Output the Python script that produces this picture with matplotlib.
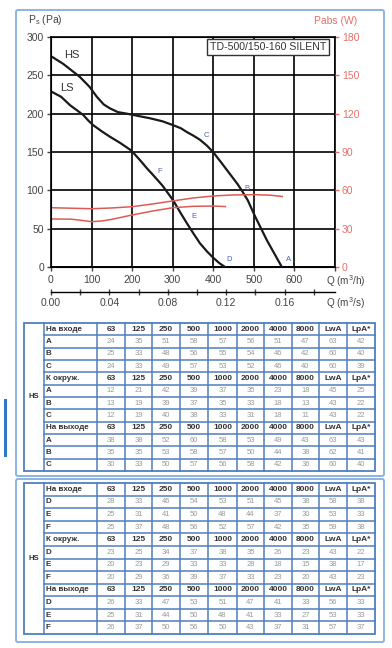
import numpy as np
import matplotlib
matplotlib.use("Agg")
import matplotlib.pyplot as plt
from matplotlib.patches import Rectangle, FancyBboxPatch

plt.rcParams['font.family'] = ['Liberation Sans', 'DejaVu Sans']

# fan curves: Q in m3/h, Ps in Pa
hs_q = [0, 30, 71, 95, 113, 130, 145, 165, 187, 215, 244, 275, 301, 320, 335, 352, 367,
        385, 401, 420, 440, 460, 470, 485, 503, 518, 532, 550, 569]
hs_p = [275, 265, 248, 235, 222, 212, 207, 202, 200, 197, 194, 190, 185, 181, 176, 171, 166,
        158, 149, 136, 122, 108, 100, 87, 66, 50, 35, 18, 0]
ls_q = [0, 25, 47, 65, 80, 92, 104, 125, 145, 170, 195, 203, 220, 236, 255, 275, 301,
        320, 335, 352, 367, 385, 400, 415, 429]
ls_p = [229, 222, 211, 204, 198, 191, 185, 177, 170, 162, 153, 149, 139, 129, 118, 106, 87,
        70, 57, 43, 31, 20, 12, 5, 0]

# absorbed power, W
hs_w_q = [0, 50, 100, 150, 200, 250, 300, 350, 400, 450, 500, 540, 570]
hs_w = [46.4, 46.0, 45.6, 46.2, 47.2, 49.3, 51.7, 54.0, 55.6, 56.4, 56.6, 56.2, 55.2]
ls_w_q = [0, 50, 75, 100, 125, 150, 200, 250, 300, 350, 400, 430]
ls_w = [37.6, 37.4, 36.5, 35.5, 36.0, 37.3, 40.7, 43.8, 46.4, 47.5, 47.7, 47.3]

# operating point letters
pt_names = ['A', 'B', 'C', 'D', 'E', 'F']
pt_q = [586, 483, 384, 440, 353, 267]
pt_p = [10, 102, 171, 10, 66, 124]

# sound tables
bands = ['63', '125', '250', '500', '1000', '2000', '4000', '8000', 'LwA', 'LpA*']
sections = ['На входе', 'К окруж.', 'На выходе']
rows1 = ['A', 'B', 'C']
vals1 = [
    [[24, 35, 51, 58, 57, 56, 51, 47, 63, 42],
     [25, 33, 48, 56, 55, 54, 46, 42, 60, 40],
     [24, 33, 49, 57, 53, 52, 46, 40, 60, 39]],
    [[12, 21, 42, 39, 37, 35, 23, 18, 45, 25],
     [13, 19, 39, 37, 35, 33, 18, 13, 43, 22],
     [12, 19, 40, 38, 33, 31, 18, 11, 43, 22]],
    [[38, 38, 52, 60, 58, 53, 49, 43, 63, 43],
     [35, 35, 53, 58, 57, 50, 44, 38, 62, 41],
     [30, 33, 50, 57, 56, 58, 42, 36, 60, 40]],
]
rows2 = ['D', 'E', 'F']
vals2 = [
    [[28, 33, 46, 54, 53, 51, 45, 38, 58, 38],
     [25, 31, 41, 50, 48, 44, 37, 30, 53, 33],
     [25, 37, 48, 56, 52, 57, 42, 35, 59, 38]],
    [[23, 25, 34, 37, 38, 35, 26, 23, 43, 22],
     [20, 23, 29, 33, 33, 28, 18, 15, 38, 17],
     [20, 29, 36, 39, 37, 33, 23, 20, 43, 23]],
    [[26, 33, 47, 53, 51, 47, 41, 33, 56, 33],
     [25, 31, 44, 50, 48, 41, 33, 27, 53, 33],
     [26, 37, 50, 56, 50, 43, 37, 31, 57, 37]],
]

W, H = 392, 648
fig = plt.figure(figsize=(W / 100, H / 100), dpi=100)
fig.patch.set_facecolor('white')

# background layer in pixel coordinates for frames and tables
bg = fig.add_axes([0, 0, 1, 1])
bg.set_xlim(0, W)
bg.set_ylim(H, 0)
bg.axis('off')

frame_col = '#8db3e0'
bg.add_patch(FancyBboxPatch((16, 10), 368, 466, boxstyle='round,pad=0,rounding_size=2',
                            fill=False, ec=frame_col, lw=1.4))
bg.add_patch(FancyBboxPatch((16, 479), 368, 163, boxstyle='round,pad=0,rounding_size=2',
                            fill=False, ec=frame_col, lw=1.4))
bg.plot([5, 5], [400, 455], color='#2f78c8', lw=2.2)

col_edges = [24, 44, 97, 125, 152, 180, 208, 237, 264, 292, 319, 347, 375]
line_col = '#4f7fbf'


def draw_table(top, bottom, row_names, vals):
    n = 12
    rh = (bottom - top) / n
    x0, x1 = col_edges[0], col_edges[-1]
    bg.add_patch(Rectangle((x0, top), x1 - x0, bottom - top, fill=False, ec=line_col, lw=1.3))
    for xe in col_edges[1:-1]:
        bg.plot([xe, xe], [top, bottom], color=line_col, lw=1.1)
    for i in range(1, n):
        y = top + i * rh
        bg.plot([col_edges[1], x1], [y, y], color=line_col, lw=1.1)
    bg.text((col_edges[0] + col_edges[1]) / 2, (top + bottom) / 2, 'HS',
            ha='center', va='center', fontsize=5.5, fontweight='bold', color='#333333')
    r = 0
    for s, sec in enumerate(sections):
        yc = top + (r + 0.5) * rh
        bg.text(col_edges[1] + 2, yc, sec, ha='left', va='center', fontsize=5.8,
                fontweight='bold', color='#333333')
        for j, b in enumerate(bands):
            bg.text((col_edges[j + 2] + col_edges[j + 3]) / 2, yc, b, ha='center',
                    va='center', fontsize=6, fontweight='bold', color='#333333')
        r += 1
        for k, name in enumerate(row_names):
            yc = top + (r + 0.5) * rh
            bg.text(col_edges[1] + 2, yc, name, ha='left', va='center', fontsize=5.8,
                    fontweight='bold', color='#333333')
            for j, v in enumerate(vals[s][k]):
                bg.text((col_edges[j + 2] + col_edges[j + 3]) / 2, yc, str(v),
                        ha='center', va='center', fontsize=5.5, color='#9a9a9a')
            r += 1


draw_table(323, 471, rows1, vals1)
draw_table(483, 634, rows2, vals2)

# main chart
ax = fig.add_axes([51 / W, 1 - 267 / H, 284 / W, 230 / H])
ax.set_xlim(0, 700)
ax.set_ylim(0, 300)
ax.set_xticks(range(0, 701, 100))
ax.set_xticklabels([str(v) for v in range(0, 601, 100)] + [''])
ax.set_yticks(range(0, 301, 50))
ax.grid(True, color='black', lw=1.2)
ax.set_axisbelow(True)
for sp in ax.spines.values():
    sp.set_color('black')
    sp.set_linewidth(1.2)
ax.tick_params(axis='both', labelsize=7.5, colors='#444444', length=3, width=1)
ax.tick_params(axis='x', pad=3)
ax.tick_params(axis='y', pad=2)

ax.plot(hs_q, hs_p, color='#1a1a1a', lw=1.6, zorder=3)
ax.plot(ls_q, ls_p, color='#1a1a1a', lw=1.6, zorder=3)
for n, q, p in zip(pt_names, pt_q, pt_p):
    ax.text(q, p, n, color='#4a64b4', fontsize=5.5, ha='center', va='center', zorder=4)
ax.text(51, 277, 'HS', fontsize=8, color='#333333', ha='center', va='center')
ax.text(39, 233, 'LS', fontsize=8, color='#333333', ha='center', va='center')
ax.text(535, 287, 'TD-500/150-160 SILENT', fontsize=7.6, color='#333333',
        ha='center', va='center', zorder=5,
        bbox=dict(boxstyle='square,pad=0.25', fc='white', ec='#333333', lw=1))

ax2 = ax.twinx()
ax2.set_ylim(0, 180)
ax2.set_yticks(range(0, 181, 30))
ax2.tick_params(axis='y', labelsize=7.5, colors='#e8706a', length=3, width=1, pad=2)
ax2.spines['right'].set_visible(False)
ax2.plot(hs_w_q, hs_w, color='#e05a55', lw=1.1)
ax2.plot(ls_w_q, ls_w, color='#e05a55', lw=1.1)

sec = ax.secondary_xaxis(-0.109, functions=(lambda q: q / 3600, lambda s: s * 3600))
sec.set_xticks([0.0, 0.04, 0.08, 0.12, 0.16])
sec.set_xticklabels(['0.00', '0.04', '0.08', '0.12', '0.16'])
sec.set_xticks(np.arange(0, 0.19, 0.02), minor=True)
sec.tick_params(which='both', direction='inout', length=5, width=1, labelsize=7.5,
                colors='#444444', pad=2)
sec.spines['bottom'].set_linewidth(1)

fig.text(45 / W, 1 - 20 / H, 'P$_\\mathregular{s}$ (Pa)', fontsize=7.5, color='#444444',
         ha='center', va='center')
fig.text(336 / W, 1 - 21 / H, 'Pabs (W)', fontsize=7.5, color='#e8706a',
         ha='center', va='center')
fig.text(346 / W, 1 - 281 / H, 'Q (m$^\\mathregular{3}$/h)', fontsize=7.2, color='#444444',
         ha='center', va='center')
fig.text(346 / W, 1 - 303 / H, 'Q (m$^\\mathregular{3}$/s)', fontsize=7.2, color='#444444',
         ha='center', va='center')

fig.savefig('out.png', dpi=100)
